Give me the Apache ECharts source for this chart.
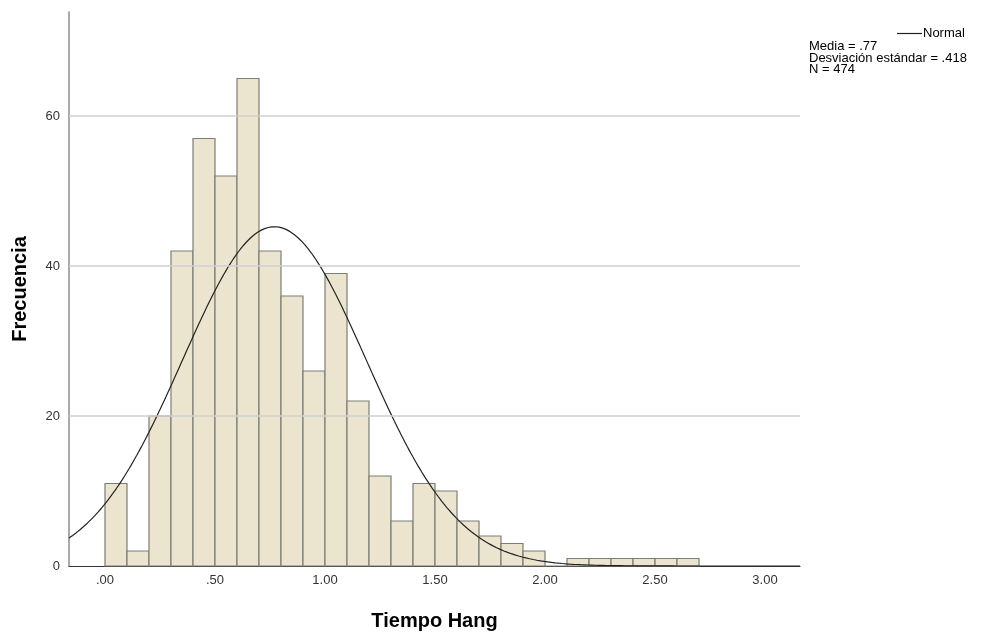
<!DOCTYPE html>
<html>
<head>
<meta charset="utf-8">
<script src="https://cdn.jsdelivr.net/npm/echarts@6/dist/echarts.min.js"></script>
<style>html,body{margin:0;padding:0;background:#fff;}#c{width:984px;height:633px;}</style>
</head>
<body>
<div id="c"></div>
<script>
// Histogram bins (lower edge) and counts
const binStarts = [0.0,0.1,0.2,0.3,0.4,0.5,0.6,0.7,0.8,0.9,1.0,1.1,1.2,1.3,1.4,1.5,1.6,1.7,1.8,1.9,2.0,2.1,2.2,2.3,2.4,2.5,2.6];
const counts    = [11, 2, 20, 42, 57, 52, 65, 42, 36, 26, 39, 22, 12, 6, 11, 10, 6, 4, 3, 2, 0, 1, 1, 1, 1, 1, 1];
const binWidth = 0.1;
// Normal curve parameters (from the chart's legend)
const mean = 0.77;
const stdDev = 0.418;
const nTotal = 474;
// Axis ticks
const xTickValues = [0, 0.5, 1.0, 1.5, 2.0, 2.5, 3.0];
const xTickLabels = ['.00', '.50', '1.00', '1.50', '2.00', '2.50', '3.00'];
const yTickValues = [0, 20, 40, 60];
const yGridValues = [20, 40, 60];
const xMin = -0.1636, xMax = 3.159, yMax = 73.87;

const barData = binStarts.map((s, i) => [s, s + binWidth, counts[i]]);

const curve = [];
const steps = 400;
for (let k = 0; k <= steps; k++) {
  const x = xMin + (xMax - xMin) * k / steps;
  const z = (x - mean) / stdDev;
  const y = nTotal * binWidth / (stdDev * Math.sqrt(2 * Math.PI)) * Math.exp(-0.5 * z * z);
  curve.push([x, y]);
}

const chart = echarts.init(document.getElementById('c'), null, {renderer: 'canvas'});
const font = '"Liberation Sans", Arial, sans-serif';
chart.setOption({
  animation: false,
  backgroundColor: '#ffffff',
  grid: {left: 69, right: 184, top: 12, bottom: 67, containLabel: false, outerBoundsMode: 'none'},
  legend: {
    data: [{name: 'Normal', icon: 'rect'}],
    left: 892, top: 22,
    itemWidth: 25, itemHeight: 1.2,
    itemGap: 4,
    textStyle: {fontFamily: font, fontSize: 13, color: '#000', padding: [0,0,0,-4]}
  },
  graphic: [{
    type: 'text', left: 809, top: 40,
    style: {
      text: 'Media = .77\nDesviación estándar = .418\nN = 474',
      font: '13px ' + font, fill: '#000', lineHeight: 11.5
    }
  }],
  xAxis: {
    type: 'value', min: xMin, max: xMax,
    name: 'Tiempo Hang', nameLocation: 'middle', nameGap: 45,
    nameTextStyle: {fontFamily: font, fontSize: 20, fontWeight: 'bold', color: '#000'},
    axisLine: {show: true, onZero: false, lineStyle: {color: '#333', width: 1.2}},
    axisTick: {show: false},
    splitLine: {show: false},
    axisLabel: {
      customValues: xTickValues,
      formatter: v => { const i = xTickValues.findIndex(t => Math.abs(t - v) < 1e-6); return i >= 0 ? xTickLabels[i] : ''; },
      fontFamily: font, fontSize: 13, color: '#333', margin: 8
    }
  },
  yAxis: {
    type: 'value', min: 0, max: yMax,
    name: 'Frecuencia', nameLocation: 'middle', nameGap: 39,
    nameTextStyle: {fontFamily: font, fontSize: 20, fontWeight: 'bold', color: '#000'},
    axisLine: {show: true, onZero: false, lineStyle: {color: '#8c8c8c', width: 1.5}},
    axisTick: {show: false},
    splitLine: {show: false},
    axisLabel: {customValues: yTickValues, fontFamily: font, fontSize: 13, color: '#333', margin: 9}
  },
  series: [
    {
      type: 'line', name: 'grid', data: [], silent: true,
      markLine: {
        silent: true, symbol: 'none', label: {show: false},
        lineStyle: {color: '#cfcfcf', width: 1.5, type: 'solid'},
        data: yGridValues.map(v => ({yAxis: v}))
      },
      z: 1
    },
    {
      type: 'custom', name: 'bars', data: barData, z: 2,
      renderItem: function (params, api) {
        const p0 = api.coord([api.value(0), api.value(2)]);
        const p1 = api.coord([api.value(1), 0]);
        return {
          type: 'rect',
          shape: {x: p0[0], y: p0[1], width: p1[0] - p0[0], height: p1[1] - p0[1]},
          style: {fill: '#ebe5d0', stroke: '#7d7d75', lineWidth: 1.2}
        };
      },
      encode: {x: [0, 1], y: 2}
    },
    {
      type: 'line', name: 'Normal', data: curve, showSymbol: false, smooth: false, z: 3,
      lineStyle: {color: '#222', width: 1.2}, itemStyle: {color: '#222'}, clip: true
    }
  ]
});
</script>
</body>
</html>
